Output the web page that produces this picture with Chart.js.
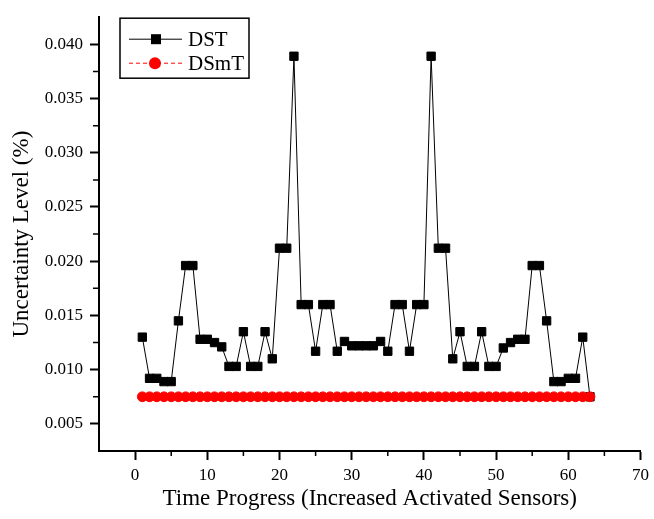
<!DOCTYPE html>
<html>
<head>
<meta charset="utf-8">
<script src="https://cdn.jsdelivr.net/npm/chart.js@4.4.1/dist/chart.umd.min.js"></script>
<style>
html, body { margin: 0; padding: 0; background: #fff; }
</style>
</head>
<body>
<canvas id="chart" width="654" height="519"></canvas>
<script>
// time steps (number of activated sensors)
const steps = [1, 2, 3, 4, 5, 6, 7, 8, 9, 10, 11, 12, 13, 14, 15, 16, 17, 18, 19, 20,
    21, 22, 23, 24, 25, 26, 27, 28, 29, 30, 31, 32, 33, 34, 35, 36, 37, 38, 39, 40,
    41, 42, 43, 44, 45, 46, 47, 48, 49, 50, 51, 52, 53, 54, 55, 56, 57, 58, 59, 60,
    61, 62, 63];

const dstValues = [0.0130, 0.0092, 0.0092, 0.0089, 0.0089, 0.0145, 0.0196, 0.0196, 0.0128, 0.0128,
    0.0125, 0.0121, 0.0103, 0.0103, 0.0135, 0.0103, 0.0103, 0.0135, 0.0110, 0.0212,
    0.0212, 0.0389, 0.0160, 0.0160, 0.0117, 0.0160, 0.0160, 0.0117, 0.0126, 0.0122,
    0.0122, 0.0122, 0.0122, 0.0126, 0.0117, 0.0160, 0.0160, 0.0117, 0.0160, 0.0160,
    0.0389, 0.0212, 0.0212, 0.0110, 0.0135, 0.0103, 0.0103, 0.0135, 0.0103, 0.0103,
    0.0120, 0.0125, 0.0128, 0.0128, 0.0196, 0.0196, 0.0145, 0.0089, 0.0089, 0.0092,
    0.0092, 0.0130, 0.0075];

const dsmtValues = [0.0075, 0.0075, 0.0075, 0.0075, 0.0075, 0.0075, 0.0075, 0.0075, 0.0075, 0.0075,
    0.0075, 0.0075, 0.0075, 0.0075, 0.0075, 0.0075, 0.0075, 0.0075, 0.0075, 0.0075,
    0.0075, 0.0075, 0.0075, 0.0075, 0.0075, 0.0075, 0.0075, 0.0075, 0.0075, 0.0075,
    0.0075, 0.0075, 0.0075, 0.0075, 0.0075, 0.0075, 0.0075, 0.0075, 0.0075, 0.0075,
    0.0075, 0.0075, 0.0075, 0.0075, 0.0075, 0.0075, 0.0075, 0.0075, 0.0075, 0.0075,
    0.0075, 0.0075, 0.0075, 0.0075, 0.0075, 0.0075, 0.0075, 0.0075, 0.0075, 0.0075,
    0.0075, 0.0075, 0.0075];

const xTicks = [0, 10, 20, 30, 40, 50, 60, 70];
const xMinorTicks = [5, 15, 25, 35, 45, 55, 65];
const yTicks = [0.005, 0.010, 0.015, 0.020, 0.025, 0.030, 0.035, 0.040];
const yMinorTicks = [0.0075, 0.0125, 0.0175, 0.0225, 0.0275, 0.0325, 0.0375];

const SERIF = "'Liberation Serif', 'Times New Roman', serif";
Chart.defaults.font.family = SERIF;
Chart.defaults.color = '#000';

function toPoints(xs, ys) {
    return xs.map((x, i) => ({x: x, y: ys[i]}));
}

// minor tick marks + Origin style legend box
const extras = {
    id: 'extras',
    afterDraw(chart) {
        const ctx = chart.ctx;
        const xs = chart.scales.x;
        const ys = chart.scales.y;
        const area = chart.chartArea;

        ctx.save();
        ctx.strokeStyle = '#000';
        ctx.lineWidth = 1.5;
        ctx.beginPath();
        for (const v of xMinorTicks) {
            let px = xs.getPixelForValue(v);
            ctx.moveTo(px, area.bottom);
            ctx.lineTo(px, area.bottom + 5);
        }
        for (const v of yMinorTicks) {
            let py = ys.getPixelForValue(v);
            ctx.moveTo(area.left, py);
            ctx.lineTo(area.left - 6, py);
        }
        ctx.stroke();

        // legend
        let lx = area.left + 21;
        let ly = area.top + 1;
        ctx.lineWidth = 1.5;
        ctx.strokeRect(lx, ly, 129, 60);

        ctx.font = "21px " + SERIF;
        ctx.textBaseline = 'middle';
        ctx.fillStyle = '#000';

        // DST
        ctx.lineWidth = 1;
        ctx.beginPath();
        ctx.moveTo(lx + 9, ly + 21);
        ctx.lineTo(lx + 62, ly + 21);
        ctx.stroke();
        ctx.fillRect(lx + 31, ly + 16, 10, 10);
        ctx.fillText('DST', lx + 68, ly + 22);

        // DSmT
        ctx.strokeStyle = '#ff0000';
        ctx.setLineDash([4, 3]);
        ctx.beginPath();
        ctx.moveTo(lx + 9, ly + 45);
        ctx.lineTo(lx + 62, ly + 45);
        ctx.stroke();
        ctx.setLineDash([]);
        ctx.fillStyle = '#ff0000';
        ctx.beginPath();
        ctx.arc(lx + 35, ly + 45, 6, 0, Math.PI * 2);
        ctx.fill();
        ctx.fillStyle = '#000';
        ctx.fillText('DSmT', lx + 68, ly + 46);

        ctx.restore();
    }
};

new Chart(document.getElementById('chart'), {
    type: 'line',
    data: {
        datasets: [
            {
                label: 'DST',
                data: toPoints(steps, dstValues),
                borderColor: '#000',
                backgroundColor: '#000',
                borderWidth: 1,
                pointStyle: 'rect',
                pointRadius: 5.9,
                pointBorderWidth: 1,
                tension: 0,
                order: 2
            },
            {
                label: 'DSmT',
                data: toPoints(steps, dsmtValues),
                borderColor: '#ff0000',
                backgroundColor: '#ff0000',
                borderWidth: 1,
                borderDash: [4, 3],
                pointStyle: 'circle',
                pointRadius: 4.9,
                pointBorderWidth: 1,
                tension: 0,
                order: 1
            }
        ]
    },
    options: {
        responsive: false,
        animation: false,
        layout: {
            padding: {left: 0, right: 11, top: 10, bottom: 0}
        },
        plugins: {
            legend: {display: false},
            tooltip: {enabled: false}
        },
        scales: {
            x: {
                type: 'linear',
                min: -5,
                max: 70,
                afterBuildTicks: (scale) => {
                    scale.ticks = xTicks.map(v => ({value: v}));
                },
                afterFit: (scale) => {
                    scale.height = 68;
                },
                ticks: {
                    color: '#000',
                    font: {family: SERIF, size: 17},
                    padding: 5,
                    maxRotation: 0
                },
                grid: {
                    display: true,
                    drawOnChartArea: false,
                    drawTicks: true,
                    tickLength: 9,
                    tickWidth: 2,
                    tickColor: '#000'
                },
                border: {display: true, color: '#000', width: 2},
                title: {
                    display: true,
                    text: 'Time Progress (Increased Activated Sensors)',
                    color: '#000',
                    font: {family: SERIF, size: 23},
                    padding: {top: 4, bottom: 6}
                }
            },
            y: {
                type: 'linear',
                min: 0.0025,
                max: 0.0425,
                afterBuildTicks: (scale) => {
                    scale.ticks = yTicks.map(v => ({value: v}));
                },
                afterFit: (scale) => {
                    scale.width = 99;
                },
                ticks: {
                    color: '#000',
                    font: {family: SERIF, size: 17},
                    padding: 7,
                    callback: (v) => Number(v).toFixed(3)
                },
                grid: {
                    display: true,
                    drawOnChartArea: false,
                    drawTicks: true,
                    tickLength: 9,
                    tickWidth: 2,
                    tickColor: '#000'
                },
                border: {display: true, color: '#000', width: 2},
                title: {
                    display: true,
                    text: 'Uncertainty Level (%)',
                    color: '#000',
                    font: {family: SERIF, size: 23},
                    padding: {top: 8, bottom: 0}
                }
            }
        }
    },
    plugins: [extras]
});
</script>
</body>
</html>
